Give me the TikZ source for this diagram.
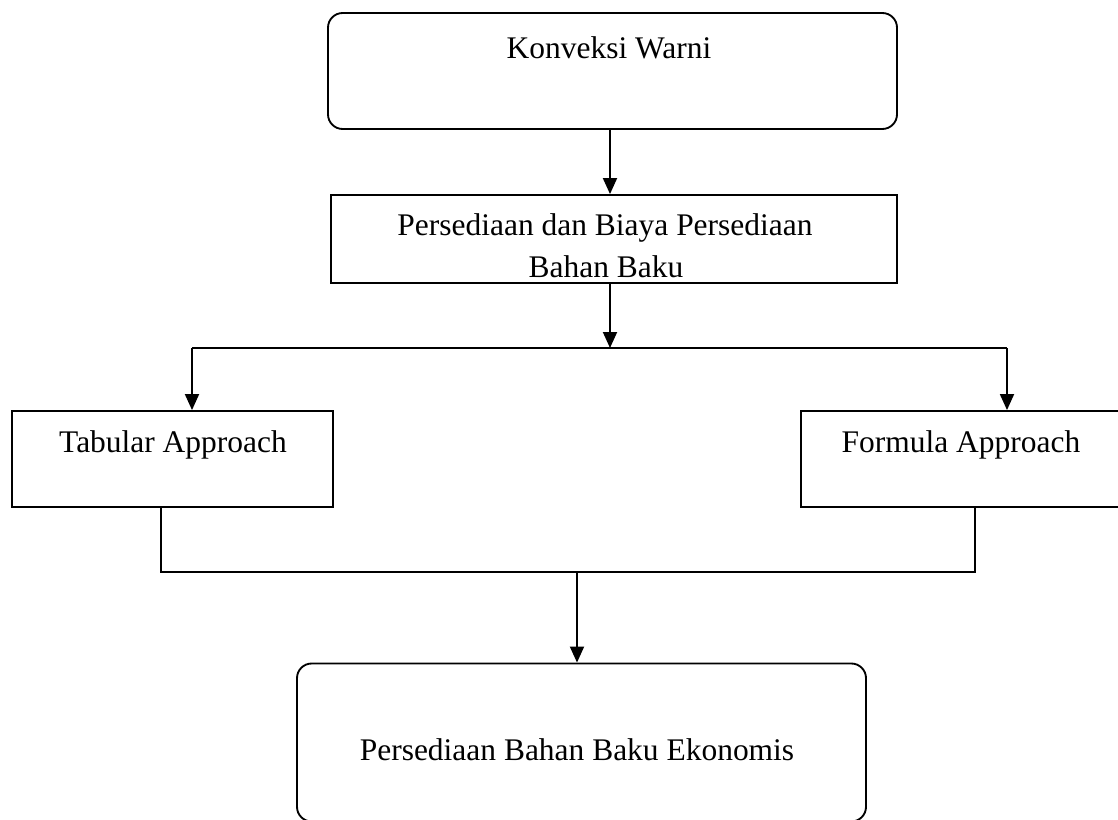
\documentclass[tikz,border=0pt]{standalone}
\usepackage{fontspec}
\setmainfont{Liberation Serif}
\usetikzlibrary{arrows.meta}
\begin{document}
\begin{tikzpicture}[x=0.75pt,y=-0.75pt,
  conn/.style={draw=black, line width=1.4pt},
  arr/.style={conn, -{Triangle[length=12pt,width=10.5pt]}},
  sbox/.style={draw=black, line width=1.4pt, inner sep=0pt},
  rbox/.style={sbox, rounded corners=11pt},
  lbl/.style={anchor=base, inner sep=0pt, font=\fontsize{23.6pt}{28pt}\selectfont}]
\useasboundingbox[fill=white] (0,0) rectangle (1118,820);
\begin{scope}
\clip (0,0) rectangle (1118,820);
% boxes
\node[rbox, minimum width=426.75pt, minimum height=87pt] (A) at (612.5,71) {};
\node[sbox, minimum width=424.5pt, minimum height=66pt] (B) at (614,239) {};
\node[sbox, minimum width=240.75pt, minimum height=72pt] (C) at (172.5,459) {};
\node[sbox, minimum width=240.75pt, minimum height=72pt] (D) at (961.5,459) {};
\node[rbox, minimum width=426.75pt, minimum height=118.5pt] (E) at (581.5,742.5) {};
% labels
\node[lbl] (tA) at (609,58.5) {Konveksi Warni};
\node[lbl] (tB1) at (605,235.5) {Persediaan dan Biaya Persediaan};
\node[lbl] (tB2) at (606,277.5) {Bahan Baku};
\node[lbl] (tC) at (173,452.5) {Tabular Approach};
\node[lbl] (tD) at (961,452.5) {Formula Approach};
\node[lbl] (tE) at (577,760) {Persediaan Bahan Baku Ekonomis};
% junctions
\coordinate (J1) at (610,348);
\coordinate (L1) at (192,348);
\coordinate (R1) at (1007,348);
\coordinate (L2) at (161,572);
\coordinate (R2) at (975,572);
\coordinate (J2) at (577,572);
% connectors
\draw[arr] (A.south -| J1) -- (B.north -| J1);
\draw[arr] (B.south -| J1) -- (J1);
\draw[conn] (L1) -- (R1);
\draw[arr] (L1) -- (L1 |- C.north);
\draw[arr] (R1) -- (R1 |- D.north);
\draw[conn] (L2 |- C.south) -- (L2) -- (R2) -- (R2 |- D.south);
\draw[arr] (J2) -- (J2 |- E.north);
\end{scope}
\end{tikzpicture}
\end{document}
